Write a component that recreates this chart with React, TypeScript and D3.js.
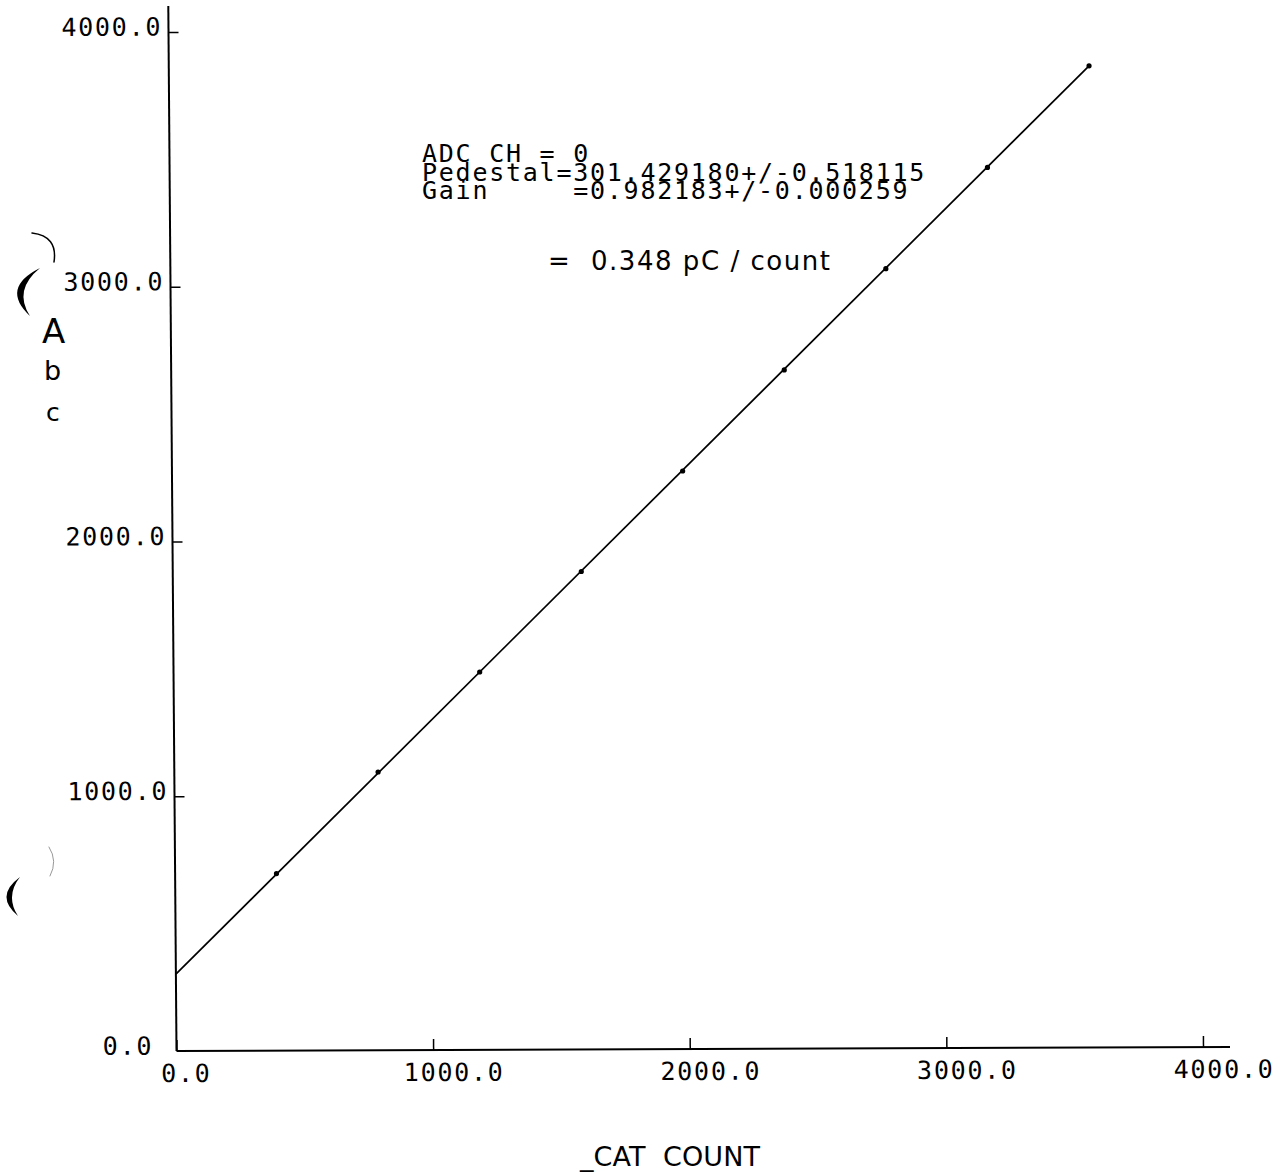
import React, { useEffect, useRef } from "react";
import * as d3 from "d3";

// Calibration points: injected charge counts vs. measured ADC counts
const chargeCounts = [395, 794, 1193, 1592, 1990, 2389, 2788, 3187, 3586];
const adcCounts = [695, 1092, 1483, 1876, 2269, 2664, 3060, 3456, 3853];

// Ends of the fitted straight line
const fitX = [0, 3586];
const fitY = [301.4, 3853];

const xTicks = [0, 1000, 2000, 3000, 4000];
const yTicks = [0, 1000, 2000, 3000, 4000];

const fitLines = [
  "ADC CH = 0",
  "Pedestal=301.429180+/-0.518115",
  "Gain     =0.982183+/-0.000259",
];
const conversionNote = "=  0.348 pC / count";
const yTitleLetters = ["A", "b", "c"];
const xTitle = "_CAT  COUNT";

const W = 1288;
const H = 1172;
const ORIGIN_X = 176.5;
const ORIGIN_Y = 1051;
const PLOT_FONT = "'DejaVu Sans Mono', monospace";
const HAND_FONT = "'DejaVu Sans', sans-serif";
const FS = 25;
const LS = 1.75;

export default function App() {
  const xAxisRef = useRef<SVGGElement>(null);
  const yAxisRef = useRef<SVGGElement>(null);

  const x = d3.scaleLinear().domain([0, 4000]).range([ORIGIN_X, 1203]);
  const y = d3.scaleLinear().domain([0, 4000]).range([ORIGIN_Y, 32]);

  useEffect(() => {
    const fmt = (d: d3.NumberValue) => (+d).toFixed(1);

    const gx = d3.select(xAxisRef.current!);
    gx.call(
      d3.axisBottom(x).tickValues(xTicks).tickSize(-11).tickFormat(fmt)
    );
    gx.select(".domain").remove();
    gx.attr("font-family", PLOT_FONT).attr("font-size", FS);
    gx.selectAll(".tick line").attr("stroke-width", 1.5);
    gx.selectAll<SVGTextElement, number>(".tick text")
      .attr("text-anchor", "start")
      .attr("x", (d) => (d === 0 ? -16 : -30))
      .attr("y", 31)
      .attr("dy", 0)
      .attr("letter-spacing", LS);

    const gy = d3.select(yAxisRef.current!);
    gy.call(
      d3.axisLeft(y).tickValues(yTicks).tickSize(-10).tickFormat(fmt)
    );
    gy.select(".domain").remove();
    gy.attr("font-family", PLOT_FONT).attr("font-size", FS);
    gy.selectAll<SVGLineElement, number>(".tick line")
      .attr("stroke-width", 1.5)
      .attr("display", (d) => (d === 0 ? "none" : null));
    gy.selectAll<SVGTextElement, number>(".tick text")
      .attr("text-anchor", "end")
      .attr("x", (d) => (d === 0 ? -25 + LS : -8 + LS))
      .attr("dy", 0)
      .attr("y", 3)
      .attr("letter-spacing", LS);
  }, []);

  const fitPath = d3
    .line<number>()
    .x((d) => x(fitX[d]))
    .y((d) => y(fitY[d]))([0, 1]);

  // slight skew of the plotted frame
  const frame = `translate(${ORIGIN_X},${ORIGIN_Y}) matrix(1,-0.0039,0.00785,1,0,0) translate(${-ORIGIN_X},${-ORIGIN_Y})`;

  return (
    <svg
      width={W}
      height={H}
      viewBox={`0 0 ${W} ${H}`}
      style={{ position: "absolute", left: 0, top: 0, background: "#fff" }}
    >
      <rect width={W} height={H} fill="#fff" />
      <g transform={frame}>
        {/* axes */}
        <line x1={ORIGIN_X} y1={ORIGIN_Y} x2={ORIGIN_X} y2={6} stroke="#000" strokeWidth={2} />
        <line x1={ORIGIN_X} y1={ORIGIN_Y} x2={1230} y2={ORIGIN_Y} stroke="#000" strokeWidth={2} />
        <g ref={xAxisRef} transform={`translate(0,${ORIGIN_Y})`} />
        <g ref={yAxisRef} transform={`translate(${ORIGIN_X},0)`} />

        {/* fitted line and measurements */}
        <path d={fitPath ?? ""} fill="none" stroke="#000" strokeWidth={1.7} />
        {chargeCounts.map((c, i) => (
          <circle key={i} cx={x(c)} cy={y(adcCounts[i])} r={2.6} fill="#000" />
        ))}
      </g>

      {/* fit results */}
      <g fontFamily={PLOT_FONT} fontSize={FS} letterSpacing={LS} fill="#000">
        {fitLines.map((t, i) => (
          <text key={i} x={422} y={162 + i * 18.5} style={{ whiteSpace: "pre" }}>
            {t}
          </text>
        ))}
      </g>

      {/* handwritten notes */}
      <g fontFamily={HAND_FONT} fill="#000">
        <text x={548} y={270} fontSize={26} textLength={282} lengthAdjust="spacing" style={{ whiteSpace: "pre" }}>
          {conversionNote}
        </text>
        <text x={42} y={343} fontSize={34}>{yTitleLetters[0]}</text>
        <text x={44} y={380} fontSize={27}>{yTitleLetters[1]}</text>
        <text x={46} y={421} fontSize={25}>{yTitleLetters[2]}</text>
        <text x={580} y={1166} fontSize={27} textLength={180} lengthAdjust="spacing" style={{ whiteSpace: "pre" }}>
          {xTitle}
        </text>
      </g>
      <g fill="#000" stroke="none">
        <path d="M 40 268 Q 0 288 30 316 Q 13 290 40 268 Z" />
        <path d="M 20 877 Q -6 896 18 916 Q 5 896 20 877 Z" />
      </g>
      <g fill="none" strokeLinecap="round">
        <path d="M 32 233 Q 58 236 54 262" stroke="#000" strokeWidth={1.5} />
        <path d="M 49 847 Q 58 861 50 876" stroke="#999" strokeWidth={1} />
      </g>
    </svg>
  );
}
